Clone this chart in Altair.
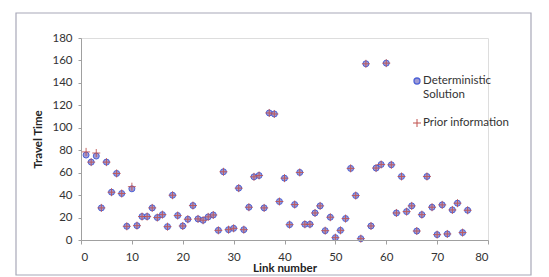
import altair as alt
import pandas as pd

links = list(range(1, 77))
deterministic = [75.7, 69.4, 74.8, 28.6, 69.4, 42.6, 59.3, 41.4, 12.2, 45.6,
                 12.8, 20.9, 20.9, 28.6, 20.0, 22.6, 11.9, 39.9, 21.8, 12.5,
                 18.5, 30.7, 18.8, 17.6, 20.6, 22.3, 8.6, 60.8, 9.2, 10.4,
                 46.2, 9.2, 29.2, 56.3, 57.5, 28.6, 113.2, 112.3, 34.3, 55.1,
                 13.7, 31.6, 60.2, 14.0, 14.0, 24.1, 30.4, 8.3, 20.3, 2.1,
                 8.6, 19.1, 63.8, 39.6, 1.2, 157.0, 12.5, 64.1, 67.3, 157.6,
                 67.0, 24.1, 56.6, 25.3, 30.4, 8.0, 22.6, 56.6, 29.2, 4.8,
                 31.3, 5.4, 26.8, 32.8, 6.6, 26.5]
prior = [78.5, 69.4, 77.5, 28.6, 69.4, 42.6, 59.3, 41.4, 12.2, 47.5,
         12.8, 20.9, 20.9, 28.6, 20.0, 22.6, 11.9, 39.9, 21.8, 12.5,
         18.5, 30.7, 18.8, 17.6, 20.6, 22.3, 8.6, 60.8, 9.2, 10.4,
         46.2, 9.2, 29.2, 56.3, 57.5, 28.6, 113.2, 112.3, 34.3, 55.1,
         13.7, 31.6, 60.2, 14.0, 14.0, 24.1, 30.4, 8.3, 20.3, 2.1,
         8.6, 19.1, 63.8, 39.6, 1.2, 157.0, 12.5, 64.1, 67.3, 157.6,
         67.0, 24.1, 56.6, 25.3, 30.4, 8.0, 22.6, 56.6, 29.2, 4.8,
         31.3, 5.4, 26.8, 32.8, 6.6, 26.5]
x_ticks = [0, 10, 20, 30, 40, 50, 60, 70, 80]
y_ticks = [0, 20, 40, 60, 80, 100, 120, 140, 160, 180]
legend_labels = ["Deterministic", "Solution", "Prior information"]

FONT = "Lato"
PLUS = "M-1,0L1,0M0,-1L0,1"

df_det = pd.DataFrame({"link": links, "time": deterministic})
df_pri = pd.DataFrame({"link": links, "time": prior})

xs = alt.Scale(domain=[0, 80], nice=False)
ys = alt.Scale(domain=[0, 180], nice=False)
xax = alt.Axis(values=x_ticks, grid=False, title="Link number", domainColor="#a0a0a0",
               tickColor="#a0a0a0", tickSize=4, labelPadding=7, labelFontSize=11.5,
               labelColor="#333333", titleFontSize=11.5, titleFontWeight="bold",
               titleColor="#222222", titlePadding=0, labelFont=FONT, titleFont=FONT,
               labelOverlap=False, zindex=1)
yax = alt.Axis(values=y_ticks, grid=False, title="Travel Time", domainColor="#a0a0a0",
               tickColor="#a0a0a0", tickSize=3, labelPadding=6, labelFontSize=11.5,
               labelColor="#333333", titleFontSize=11.5, titleFontWeight="bold",
               titleColor="#222222", titlePadding=8, labelFont=FONT, titleFont=FONT,
               labelOverlap=False, labelFlush=False, labelBound=False, zindex=1)

frame = alt.Chart(pd.DataFrame({"a": [0]})).mark_rect(
    fillOpacity=0, stroke="#a8a8b8", strokeWidth=1.2
).encode(x=alt.value(-65), x2=alt.value(450), y=alt.value(-25), y2=alt.value(237))

circles = alt.Chart(df_det).mark_point(
    shape="circle", filled=True, fill="#a09bd4", stroke="#4d62d6", strokeWidth=1,
    size=36, opacity=1
).encode(x=alt.X("link:Q", scale=xs, axis=xax), y=alt.Y("time:Q", scale=ys, axis=yax))

pluses = alt.Chart(df_pri).mark_point(
    shape=PLUS, filled=False, stroke="#c0504d", strokeWidth=1, size=64, opacity=0.85
).encode(x=alt.X("link:Q", scale=xs, axis=xax), y=alt.Y("time:Q", scale=ys, axis=yax))

leg_c = alt.Chart(pd.DataFrame({"a": [0]})).mark_point(
    shape="circle", filled=True, fill="#a09bd4", stroke="#4d62d6", strokeWidth=1.3,
    size=36, opacity=1
).encode(x=alt.value(336), y=alt.value(43))
leg_p = alt.Chart(pd.DataFrame({"a": [0]})).mark_point(
    shape=PLUS, filled=False, stroke="#c0504d", strokeWidth=1, size=64, opacity=1
).encode(x=alt.value(336), y=alt.value(85))
leg_df = pd.DataFrame({"label": legend_labels, "ypx": [43, 56.5, 85]})
leg_t = alt.Chart(leg_df).mark_text(
    align="left", baseline="middle", font=FONT, fontSize=11.5, color="#333333"
).encode(x=alt.value(342), y=alt.Y("ypx:Q", scale=None), text="label:N")

chart = alt.layer(frame, circles, pluses, leg_c, leg_p, leg_t).properties(
    width=407, height=202,
    autosize=alt.AutoSizeParams(type="none"),
    padding={"left": 81, "top": 38, "right": 61, "bottom": 37},
).configure_view(stroke=None).configure_axis(labelOverlap=False).configure(background="white")

chart.save("out.html", embed_options={"renderer": "svg", "actions": False})
